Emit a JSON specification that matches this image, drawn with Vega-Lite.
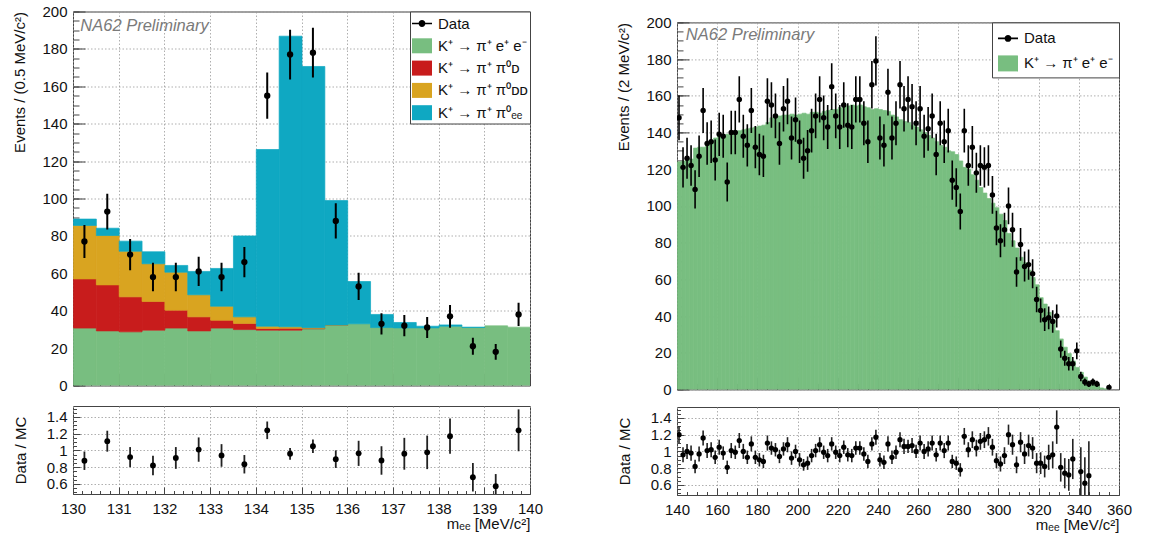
{
"$schema": "https://vega.github.io/schema/vega-lite/v6.json",
"padding": {"left": 12, "top": 3.5, "right": 0, "bottom": 0},
"config": {
 "font": "Liberation Sans",
 "view": {"stroke": "#444", "strokeWidth": 1},
 "axis": {"domain": false, "grid": true, "gridColor": "#9a9a9a", "gridDash": [1.5, 2], "gridWidth": 0.8, "tickColor": "#444", "tickSize": -12, "tickWidth": 1, "tickCount": 100, "labelFont": "Liberation Sans", "labelFontSize": 15, "labelColor": "#111", "titleFont": "Liberation Sans", "titleFontSize": 15, "titleFontWeight": "normal", "titleColor": "#111", "labelFlush": false, "labelOverlap": false}
},
"datasets": {
 "left_mc": [
  {"x":130.0,"x2":130.5,"c":"K⁺ → π⁺ e⁺ e⁻","o":1,"y":30.7},
  {"x":130.5,"x2":131.0,"c":"K⁺ → π⁺ e⁺ e⁻","o":1,"y":29.2},
  {"x":131.0,"x2":131.5,"c":"K⁺ → π⁺ e⁺ e⁻","o":1,"y":28.7},
  {"x":131.5,"x2":132.0,"c":"K⁺ → π⁺ e⁺ e⁻","o":1,"y":29.6},
  {"x":132.0,"x2":132.5,"c":"K⁺ → π⁺ e⁺ e⁻","o":1,"y":30.7},
  {"x":132.5,"x2":133.0,"c":"K⁺ → π⁺ e⁺ e⁻","o":1,"y":29.2},
  {"x":133.0,"x2":133.5,"c":"K⁺ → π⁺ e⁺ e⁻","o":1,"y":30.7},
  {"x":133.5,"x2":134.0,"c":"K⁺ → π⁺ e⁺ e⁻","o":1,"y":29.9},
  {"x":134.0,"x2":134.5,"c":"K⁺ → π⁺ e⁺ e⁻","o":1,"y":29.6},
  {"x":134.5,"x2":135.0,"c":"K⁺ → π⁺ e⁺ e⁻","o":1,"y":29.6},
  {"x":135.0,"x2":135.5,"c":"K⁺ → π⁺ e⁺ e⁻","o":1,"y":30.3},
  {"x":135.5,"x2":136.0,"c":"K⁺ → π⁺ e⁺ e⁻","o":1,"y":32.1},
  {"x":136.0,"x2":136.5,"c":"K⁺ → π⁺ e⁺ e⁻","o":1,"y":33.0},
  {"x":136.5,"x2":137.0,"c":"K⁺ → π⁺ e⁺ e⁻","o":1,"y":31.0},
  {"x":137.0,"x2":137.5,"c":"K⁺ → π⁺ e⁺ e⁻","o":1,"y":30.8},
  {"x":137.5,"x2":138.0,"c":"K⁺ → π⁺ e⁺ e⁻","o":1,"y":30.8},
  {"x":138.0,"x2":138.5,"c":"K⁺ → π⁺ e⁺ e⁻","o":1,"y":31.7},
  {"x":138.5,"x2":139.0,"c":"K⁺ → π⁺ e⁺ e⁻","o":1,"y":31.0},
  {"x":139.0,"x2":139.5,"c":"K⁺ → π⁺ e⁺ e⁻","o":1,"y":31.9},
  {"x":139.5,"x2":140.0,"c":"K⁺ → π⁺ e⁺ e⁻","o":1,"y":31.2},
  {"x":130.0,"x2":130.5,"c":"K⁺ → π⁺ π⁰ᴅ","o":2,"y":26.3},
  {"x":130.5,"x2":131.0,"c":"K⁺ → π⁺ π⁰ᴅ","o":2,"y":24.6},
  {"x":131.0,"x2":131.5,"c":"K⁺ → π⁺ π⁰ᴅ","o":2,"y":18.7},
  {"x":131.5,"x2":132.0,"c":"K⁺ → π⁺ π⁰ᴅ","o":2,"y":15.3},
  {"x":132.0,"x2":132.5,"c":"K⁺ → π⁺ π⁰ᴅ","o":2,"y":9.6},
  {"x":132.5,"x2":133.0,"c":"K⁺ → π⁺ π⁰ᴅ","o":2,"y":7.5},
  {"x":133.0,"x2":133.5,"c":"K⁺ → π⁺ π⁰ᴅ","o":2,"y":4.2},
  {"x":133.5,"x2":134.0,"c":"K⁺ → π⁺ π⁰ᴅ","o":2,"y":3.3},
  {"x":134.0,"x2":134.5,"c":"K⁺ → π⁺ π⁰ᴅ","o":2,"y":0.9},
  {"x":134.5,"x2":135.0,"c":"K⁺ → π⁺ π⁰ᴅ","o":2,"y":1.0},
  {"x":135.0,"x2":135.5,"c":"K⁺ → π⁺ π⁰ᴅ","o":2,"y":0.3},
  {"x":135.5,"x2":136.0,"c":"K⁺ → π⁺ π⁰ᴅ","o":2,"y":0.1},
  {"x":130.0,"x2":130.5,"c":"K⁺ → π⁺ π⁰ᴅᴅ","o":3,"y":28.6},
  {"x":130.5,"x2":131.0,"c":"K⁺ → π⁺ π⁰ᴅᴅ","o":3,"y":26.4},
  {"x":131.0,"x2":131.5,"c":"K⁺ → π⁺ π⁰ᴅᴅ","o":3,"y":24.4},
  {"x":131.5,"x2":132.0,"c":"K⁺ → π⁺ π⁰ᴅᴅ","o":3,"y":20.2},
  {"x":132.0,"x2":132.5,"c":"K⁺ → π⁺ π⁰ᴅᴅ","o":3,"y":20.3},
  {"x":132.5,"x2":133.0,"c":"K⁺ → π⁺ π⁰ᴅᴅ","o":3,"y":11.8},
  {"x":133.0,"x2":133.5,"c":"K⁺ → π⁺ π⁰ᴅᴅ","o":3,"y":7.5},
  {"x":133.5,"x2":134.0,"c":"K⁺ → π⁺ π⁰ᴅᴅ","o":3,"y":3.5},
  {"x":134.0,"x2":134.5,"c":"K⁺ → π⁺ π⁰ᴅᴅ","o":3,"y":1.2},
  {"x":134.5,"x2":135.0,"c":"K⁺ → π⁺ π⁰ᴅᴅ","o":3,"y":0.8},
  {"x":135.0,"x2":135.5,"c":"K⁺ → π⁺ π⁰ᴅᴅ","o":3,"y":0.3},
  {"x":135.5,"x2":136.0,"c":"K⁺ → π⁺ π⁰ᴅᴅ","o":3,"y":0.1},
  {"x":130.0,"x2":130.5,"c":"K⁺ → π⁺ π⁰ₑₑ","o":4,"y":3.4},
  {"x":130.5,"x2":131.0,"c":"K⁺ → π⁺ π⁰ₑₑ","o":4,"y":3.9},
  {"x":131.0,"x2":131.5,"c":"K⁺ → π⁺ π⁰ₑₑ","o":4,"y":5.4},
  {"x":131.5,"x2":132.0,"c":"K⁺ → π⁺ π⁰ₑₑ","o":4,"y":6.4},
  {"x":132.0,"x2":132.5,"c":"K⁺ → π⁺ π⁰ₑₑ","o":4,"y":3.6},
  {"x":132.5,"x2":133.0,"c":"K⁺ → π⁺ π⁰ₑₑ","o":4,"y":12.5},
  {"x":133.0,"x2":133.5,"c":"K⁺ → π⁺ π⁰ₑₑ","o":4,"y":20.2},
  {"x":133.5,"x2":134.0,"c":"K⁺ → π⁺ π⁰ₑₑ","o":4,"y":43.3},
  {"x":134.0,"x2":134.5,"c":"K⁺ → π⁺ π⁰ₑₑ","o":4,"y":94.5},
  {"x":134.5,"x2":135.0,"c":"K⁺ → π⁺ π⁰ₑₑ","o":4,"y":155.4},
  {"x":135.0,"x2":135.5,"c":"K⁺ → π⁺ π⁰ₑₑ","o":4,"y":139.7},
  {"x":135.5,"x2":136.0,"c":"K⁺ → π⁺ π⁰ₑₑ","o":4,"y":66.6},
  {"x":136.0,"x2":136.5,"c":"K⁺ → π⁺ π⁰ₑₑ","o":4,"y":22.6},
  {"x":136.5,"x2":137.0,"c":"K⁺ → π⁺ π⁰ₑₑ","o":4,"y":7.0},
  {"x":137.0,"x2":137.5,"c":"K⁺ → π⁺ π⁰ₑₑ","o":4,"y":2.9},
  {"x":137.5,"x2":138.0,"c":"K⁺ → π⁺ π⁰ₑₑ","o":4,"y":0.9},
  {"x":138.0,"x2":138.5,"c":"K⁺ → π⁺ π⁰ₑₑ","o":4,"y":0.7},
  {"x":138.5,"x2":139.0,"c":"K⁺ → π⁺ π⁰ₑₑ","o":4,"y":0.2}
 ],
 "left_data": [
  {"x":130.25,"y":77,"e":8.8},{"x":130.75,"y":93,"e":9.6},{"x":131.25,"y":70,"e":8.4},{"x":131.75,"y":58,"e":7.6},
  {"x":132.25,"y":58,"e":7.6},{"x":132.75,"y":61,"e":7.8},{"x":133.25,"y":58,"e":7.6},{"x":133.75,"y":66,"e":8.1},
  {"x":134.25,"y":155,"e":12.4},{"x":134.75,"y":177,"e":13.3},{"x":135.25,"y":178,"e":13.3},{"x":135.75,"y":88,"e":9.4},
  {"x":136.25,"y":53,"e":7.3},{"x":136.75,"y":33,"e":5.7},{"x":137.25,"y":32,"e":5.7},{"x":137.75,"y":31,"e":5.6},
  {"x":138.25,"y":37,"e":6.1},{"x":138.75,"y":21,"e":4.6},{"x":139.25,"y":18,"e":4.2},{"x":139.75,"y":38,"e":6.2}
 ],
 "left_ratio": [
  {"x":130.25,"y":0.877,"e":0.11},{"x":130.75,"y":1.11,"e":0.125},{"x":131.25,"y":0.92,"e":0.12},{"x":131.75,"y":0.82,"e":0.115},
  {"x":132.25,"y":0.91,"e":0.13},{"x":132.75,"y":1.01,"e":0.145},{"x":133.25,"y":0.94,"e":0.135},{"x":133.75,"y":0.835,"e":0.11},
  {"x":134.25,"y":1.24,"e":0.105},{"x":134.75,"y":0.96,"e":0.07},{"x":135.25,"y":1.05,"e":0.08},{"x":135.75,"y":0.896,"e":0.105},
  {"x":136.25,"y":0.965,"e":0.15},{"x":136.75,"y":0.88,"e":0.17},{"x":137.25,"y":0.96,"e":0.19},{"x":137.75,"y":0.977,"e":0.2},
  {"x":138.25,"y":1.17,"e":0.21},{"x":138.75,"y":0.68,"e":0.17},{"x":139.25,"y":0.573,"e":0.145},{"x":139.75,"y":1.24,"e":0.25}
 ],
 "right_mc": [
  {"x":140,"x2":142,"y":124,"c":"K⁺ → π⁺ e⁺ e⁻"},{"x":142,"x2":144,"y":124.5,"c":"K⁺ → π⁺ e⁺ e⁻"},{"x":144,"x2":146,"y":125,"c":"K⁺ → π⁺ e⁺ e⁻"},{"x":146,"x2":148,"y":125.5,"c":"K⁺ → π⁺ e⁺ e⁻"},
  {"x":148,"x2":150,"y":131.5,"c":"K⁺ → π⁺ e⁺ e⁻"},{"x":150,"x2":152,"y":132,"c":"K⁺ → π⁺ e⁺ e⁻"},{"x":152,"x2":154,"y":132,"c":"K⁺ → π⁺ e⁺ e⁻"},{"x":154,"x2":156,"y":133,"c":"K⁺ → π⁺ e⁺ e⁻"},
  {"x":156,"x2":158,"y":135,"c":"K⁺ → π⁺ e⁺ e⁻"},{"x":158,"x2":160,"y":137,"c":"K⁺ → π⁺ e⁺ e⁻"},{"x":160,"x2":162,"y":138,"c":"K⁺ → π⁺ e⁺ e⁻"},{"x":162,"x2":164,"y":138.5,"c":"K⁺ → π⁺ e⁺ e⁻"},
  {"x":164,"x2":166,"y":139,"c":"K⁺ → π⁺ e⁺ e⁻"},{"x":166,"x2":168,"y":139.5,"c":"K⁺ → π⁺ e⁺ e⁻"},{"x":168,"x2":170,"y":140,"c":"K⁺ → π⁺ e⁺ e⁻"},{"x":170,"x2":172,"y":141,"c":"K⁺ → π⁺ e⁺ e⁻"},
  {"x":172,"x2":174,"y":141.5,"c":"K⁺ → π⁺ e⁺ e⁻"},{"x":174,"x2":176,"y":142,"c":"K⁺ → π⁺ e⁺ e⁻"},{"x":176,"x2":178,"y":142.5,"c":"K⁺ → π⁺ e⁺ e⁻"},{"x":178,"x2":180,"y":143,"c":"K⁺ → π⁺ e⁺ e⁻"},
  {"x":180,"x2":182,"y":143.5,"c":"K⁺ → π⁺ e⁺ e⁻"},{"x":182,"x2":184,"y":144,"c":"K⁺ → π⁺ e⁺ e⁻"},{"x":184,"x2":186,"y":145.5,"c":"K⁺ → π⁺ e⁺ e⁻"},{"x":186,"x2":188,"y":148,"c":"K⁺ → π⁺ e⁺ e⁻"},
  {"x":188,"x2":190,"y":148,"c":"K⁺ → π⁺ e⁺ e⁻"},{"x":190,"x2":192,"y":149,"c":"K⁺ → π⁺ e⁺ e⁻"},{"x":192,"x2":194,"y":149.5,"c":"K⁺ → π⁺ e⁺ e⁻"},{"x":194,"x2":196,"y":149.5,"c":"K⁺ → π⁺ e⁺ e⁻"},
  {"x":196,"x2":198,"y":150,"c":"K⁺ → π⁺ e⁺ e⁻"},{"x":198,"x2":200,"y":149.5,"c":"K⁺ → π⁺ e⁺ e⁻"},{"x":200,"x2":202,"y":150,"c":"K⁺ → π⁺ e⁺ e⁻"},{"x":202,"x2":204,"y":150.5,"c":"K⁺ → π⁺ e⁺ e⁻"},
  {"x":204,"x2":206,"y":150,"c":"K⁺ → π⁺ e⁺ e⁻"},{"x":206,"x2":208,"y":151,"c":"K⁺ → π⁺ e⁺ e⁻"},{"x":208,"x2":210,"y":151,"c":"K⁺ → π⁺ e⁺ e⁻"},{"x":210,"x2":212,"y":150.5,"c":"K⁺ → π⁺ e⁺ e⁻"},
  {"x":212,"x2":214,"y":151.5,"c":"K⁺ → π⁺ e⁺ e⁻"},{"x":214,"x2":216,"y":152,"c":"K⁺ → π⁺ e⁺ e⁻"},{"x":216,"x2":218,"y":152.5,"c":"K⁺ → π⁺ e⁺ e⁻"},{"x":218,"x2":220,"y":152.5,"c":"K⁺ → π⁺ e⁺ e⁻"},
  {"x":220,"x2":222,"y":153.5,"c":"K⁺ → π⁺ e⁺ e⁻"},{"x":222,"x2":224,"y":154,"c":"K⁺ → π⁺ e⁺ e⁻"},{"x":224,"x2":226,"y":154.5,"c":"K⁺ → π⁺ e⁺ e⁻"},{"x":226,"x2":228,"y":155,"c":"K⁺ → π⁺ e⁺ e⁻"},
  {"x":228,"x2":230,"y":154.5,"c":"K⁺ → π⁺ e⁺ e⁻"},{"x":230,"x2":232,"y":155,"c":"K⁺ → π⁺ e⁺ e⁻"},{"x":232,"x2":234,"y":154,"c":"K⁺ → π⁺ e⁺ e⁻"},{"x":234,"x2":236,"y":153.5,"c":"K⁺ → π⁺ e⁺ e⁻"},
  {"x":236,"x2":238,"y":152.5,"c":"K⁺ → π⁺ e⁺ e⁻"},{"x":238,"x2":240,"y":153,"c":"K⁺ → π⁺ e⁺ e⁻"},{"x":240,"x2":242,"y":152.5,"c":"K⁺ → π⁺ e⁺ e⁻"},{"x":242,"x2":244,"y":152,"c":"K⁺ → π⁺ e⁺ e⁻"},
  {"x":244,"x2":246,"y":151.5,"c":"K⁺ → π⁺ e⁺ e⁻"},{"x":246,"x2":248,"y":149.5,"c":"K⁺ → π⁺ e⁺ e⁻"},{"x":248,"x2":250,"y":148.5,"c":"K⁺ → π⁺ e⁺ e⁻"},{"x":250,"x2":252,"y":147,"c":"K⁺ → π⁺ e⁺ e⁻"},
  {"x":252,"x2":254,"y":146,"c":"K⁺ → π⁺ e⁺ e⁻"},{"x":254,"x2":256,"y":145.5,"c":"K⁺ → π⁺ e⁺ e⁻"},{"x":256,"x2":258,"y":144,"c":"K⁺ → π⁺ e⁺ e⁻"},{"x":258,"x2":260,"y":143,"c":"K⁺ → π⁺ e⁺ e⁻"},
  {"x":260,"x2":262,"y":141.5,"c":"K⁺ → π⁺ e⁺ e⁻"},{"x":262,"x2":264,"y":140,"c":"K⁺ → π⁺ e⁺ e⁻"},{"x":264,"x2":266,"y":138.5,"c":"K⁺ → π⁺ e⁺ e⁻"},{"x":266,"x2":268,"y":137,"c":"K⁺ → π⁺ e⁺ e⁻"},
  {"x":268,"x2":270,"y":135,"c":"K⁺ → π⁺ e⁺ e⁻"},{"x":270,"x2":272,"y":133,"c":"K⁺ → π⁺ e⁺ e⁻"},{"x":272,"x2":274,"y":132,"c":"K⁺ → π⁺ e⁺ e⁻"},{"x":274,"x2":276,"y":130,"c":"K⁺ → π⁺ e⁺ e⁻"},
  {"x":276,"x2":278,"y":129.5,"c":"K⁺ → π⁺ e⁺ e⁻"},{"x":278,"x2":280,"y":128,"c":"K⁺ → π⁺ e⁺ e⁻"},{"x":280,"x2":282,"y":124.5,"c":"K⁺ → π⁺ e⁺ e⁻"},{"x":282,"x2":284,"y":121,"c":"K⁺ → π⁺ e⁺ e⁻"},
  {"x":284,"x2":286,"y":120,"c":"K⁺ → π⁺ e⁺ e⁻"},{"x":286,"x2":288,"y":117,"c":"K⁺ → π⁺ e⁺ e⁻"},{"x":288,"x2":290,"y":114,"c":"K⁺ → π⁺ e⁺ e⁻"},{"x":290,"x2":292,"y":110,"c":"K⁺ → π⁺ e⁺ e⁻"},
  {"x":292,"x2":294,"y":107,"c":"K⁺ → π⁺ e⁺ e⁻"},{"x":294,"x2":296,"y":104,"c":"K⁺ → π⁺ e⁺ e⁻"},{"x":296,"x2":298,"y":101.5,"c":"K⁺ → π⁺ e⁺ e⁻"},{"x":298,"x2":300,"y":99,"c":"K⁺ → π⁺ e⁺ e⁻"},
  {"x":300,"x2":302,"y":95.5,"c":"K⁺ → π⁺ e⁺ e⁻"},{"x":302,"x2":304,"y":92,"c":"K⁺ → π⁺ e⁺ e⁻"},{"x":304,"x2":306,"y":85,"c":"K⁺ → π⁺ e⁺ e⁻"},{"x":306,"x2":308,"y":81,"c":"K⁺ → π⁺ e⁺ e⁻"},
  {"x":308,"x2":310,"y":77,"c":"K⁺ → π⁺ e⁺ e⁻"},{"x":310,"x2":312,"y":72,"c":"K⁺ → π⁺ e⁺ e⁻"},{"x":312,"x2":314,"y":69,"c":"K⁺ → π⁺ e⁺ e⁻"},{"x":314,"x2":316,"y":65,"c":"K⁺ → π⁺ e⁺ e⁻"},
  {"x":316,"x2":318,"y":61,"c":"K⁺ → π⁺ e⁺ e⁻"},{"x":318,"x2":320,"y":57,"c":"K⁺ → π⁺ e⁺ e⁻"},{"x":320,"x2":322,"y":50,"c":"K⁺ → π⁺ e⁺ e⁻"},{"x":322,"x2":324,"y":46.5,"c":"K⁺ → π⁺ e⁺ e⁻"},
  {"x":324,"x2":326,"y":42,"c":"K⁺ → π⁺ e⁺ e⁻"},{"x":326,"x2":328,"y":38,"c":"K⁺ → π⁺ e⁺ e⁻"},{"x":328,"x2":330,"y":32,"c":"K⁺ → π⁺ e⁺ e⁻"},{"x":330,"x2":332,"y":27.5,"c":"K⁺ → π⁺ e⁺ e⁻"},
  {"x":332,"x2":334,"y":23,"c":"K⁺ → π⁺ e⁺ e⁻"},{"x":334,"x2":336,"y":19.5,"c":"K⁺ → π⁺ e⁺ e⁻"},{"x":336,"x2":338,"y":15.5,"c":"K⁺ → π⁺ e⁺ e⁻"},{"x":338,"x2":340,"y":12,"c":"K⁺ → π⁺ e⁺ e⁻"},
  {"x":340,"x2":342,"y":9.3,"c":"K⁺ → π⁺ e⁺ e⁻"},{"x":342,"x2":344,"y":6.7,"c":"K⁺ → π⁺ e⁺ e⁻"},{"x":344,"x2":346,"y":4.5,"c":"K⁺ → π⁺ e⁺ e⁻"},{"x":346,"x2":348,"y":3,"c":"K⁺ → π⁺ e⁺ e⁻"},
  {"x":348,"x2":350,"y":1.8,"c":"K⁺ → π⁺ e⁺ e⁻"},{"x":350,"x2":352,"y":0.8,"c":"K⁺ → π⁺ e⁺ e⁻"},{"x":352,"x2":354,"y":0.3,"c":"K⁺ → π⁺ e⁺ e⁻"}
 ],
 "right_data": [
  {"x":141,"y":148,"e":12.2},{"x":143,"y":121,"e":11},{"x":145,"y":126,"e":11.2},{"x":147,"y":122,"e":11},
  {"x":149,"y":109,"e":10.4},{"x":151,"y":127,"e":11.3},{"x":153,"y":152,"e":12.3},{"x":155,"y":134,"e":11.6},
  {"x":157,"y":135,"e":11.6},{"x":159,"y":125,"e":11.2},{"x":161,"y":139,"e":11.8},{"x":163,"y":138,"e":11.7},
  {"x":165,"y":113,"e":10.6},{"x":167,"y":140,"e":11.8},{"x":169,"y":140,"e":11.8},{"x":171,"y":158,"e":12.6},
  {"x":173,"y":138,"e":11.7},{"x":175,"y":133,"e":11.5},{"x":177,"y":152,"e":12.3},{"x":179,"y":132,"e":11.5},
  {"x":181,"y":128,"e":11.3},{"x":183,"y":127,"e":11.3},{"x":185,"y":157,"e":12.5},{"x":187,"y":155,"e":12.4},
  {"x":189,"y":149,"e":12.2},{"x":191,"y":134,"e":11.6},{"x":193,"y":153,"e":12.4},{"x":195,"y":157,"e":12.5},
  {"x":197,"y":137,"e":11.7},{"x":199,"y":147,"e":12.1},{"x":201,"y":135,"e":11.6},{"x":203,"y":126,"e":11.2},
  {"x":205,"y":130,"e":11.4},{"x":207,"y":141,"e":11.9},{"x":209,"y":149,"e":12.2},{"x":211,"y":158,"e":12.6},
  {"x":213,"y":148,"e":12.2},{"x":215,"y":143,"e":12},{"x":217,"y":165,"e":12.8},{"x":219,"y":149,"e":12.2},
  {"x":221,"y":143,"e":12},{"x":223,"y":155,"e":12.4},{"x":225,"y":144,"e":12},{"x":227,"y":143,"e":12},
  {"x":229,"y":158,"e":12.6},{"x":231,"y":158,"e":12.6},{"x":233,"y":145,"e":12},{"x":235,"y":135,"e":11.6},
  {"x":237,"y":166,"e":12.9},{"x":239,"y":179,"e":13.4},{"x":241,"y":137,"e":11.7},{"x":243,"y":133,"e":11.5},
  {"x":245,"y":162,"e":12.7},{"x":247,"y":137,"e":11.7},{"x":249,"y":145,"e":12},{"x":251,"y":166,"e":12.9},
  {"x":253,"y":153,"e":12.4},{"x":255,"y":158,"e":12.6},{"x":257,"y":154,"e":12.4},{"x":259,"y":145,"e":12},
  {"x":261,"y":153,"e":12.4},{"x":263,"y":138,"e":11.7},{"x":265,"y":142,"e":11.9},{"x":267,"y":149,"e":12.2},
  {"x":269,"y":128,"e":11.3},{"x":271,"y":145,"e":12},{"x":273,"y":135,"e":11.6},{"x":275,"y":141,"e":11.9},
  {"x":277,"y":114,"e":10.7},{"x":279,"y":110,"e":10.5},{"x":281,"y":97,"e":9.8},{"x":283,"y":141,"e":11.9},
  {"x":285,"y":122,"e":11},{"x":287,"y":132,"e":11.5},{"x":289,"y":118,"e":10.9},{"x":291,"y":122,"e":11},
  {"x":293,"y":121,"e":11},{"x":295,"y":122,"e":11},{"x":297,"y":106,"e":10.3},{"x":299,"y":88,"e":9.4},
  {"x":301,"y":81,"e":9},{"x":303,"y":87,"e":9.3},{"x":305,"y":100,"e":10},{"x":307,"y":87,"e":9.3},
  {"x":309,"y":64,"e":8},{"x":311,"y":79,"e":8.9},{"x":313,"y":67,"e":8.2},{"x":315,"y":68,"e":8.2},
  {"x":317,"y":63,"e":7.9},{"x":319,"y":49,"e":7},{"x":321,"y":43,"e":6.6},{"x":323,"y":38,"e":6.2},
  {"x":325,"y":39,"e":6.2},{"x":327,"y":37,"e":6.1},{"x":329,"y":40,"e":6.3},{"x":331,"y":22,"e":4.7},
  {"x":333,"y":17,"e":4.1},{"x":335,"y":14,"e":3.7},{"x":337,"y":14,"e":3.7},{"x":339,"y":21,"e":4.6},
  {"x":341,"y":7,"e":2.6},{"x":343,"y":4,"e":2},{"x":345,"y":3,"e":1.7},{"x":347,"y":4,"e":2},
  {"x":349,"y":3,"e":1.7},{"x":355,"y":1,"e":1}
 ],
 "right_ratio": [
  {"x":141,"y":1.2,"e":0.1},{"x":143,"y":0.96,"e":0.09},{"x":145,"y":1.0,"e":0.09},{"x":147,"y":0.98,"e":0.09},
  {"x":149,"y":0.82,"e":0.08},{"x":151,"y":0.97,"e":0.09},{"x":153,"y":1.16,"e":0.09},{"x":155,"y":1.01,"e":0.09},
  {"x":157,"y":1.02,"e":0.09},{"x":159,"y":0.93,"e":0.08},{"x":161,"y":1.05,"e":0.09},{"x":163,"y":0.98,"e":0.08},
  {"x":165,"y":0.81,"e":0.08},{"x":167,"y":1.01,"e":0.09},{"x":169,"y":0.99,"e":0.08},{"x":171,"y":1.13,"e":0.09},
  {"x":173,"y":1.0,"e":0.09},{"x":175,"y":0.93,"e":0.08},{"x":177,"y":1.09,"e":0.09},{"x":179,"y":0.93,"e":0.08},
  {"x":181,"y":0.9,"e":0.08},{"x":183,"y":0.88,"e":0.08},{"x":185,"y":1.1,"e":0.09},{"x":187,"y":1.04,"e":0.08},
  {"x":189,"y":1.02,"e":0.08},{"x":191,"y":0.94,"e":0.08},{"x":193,"y":1.03,"e":0.08},{"x":195,"y":1.08,"e":0.09},
  {"x":197,"y":0.92,"e":0.08},{"x":199,"y":1.0,"e":0.08},{"x":201,"y":0.9,"e":0.08},{"x":203,"y":0.84,"e":0.07},
  {"x":205,"y":0.86,"e":0.08},{"x":207,"y":0.95,"e":0.08},{"x":209,"y":1.01,"e":0.08},{"x":211,"y":1.08,"e":0.09},
  {"x":213,"y":0.99,"e":0.08},{"x":215,"y":0.95,"e":0.08},{"x":217,"y":1.09,"e":0.08},{"x":219,"y":0.99,"e":0.08},
  {"x":221,"y":0.95,"e":0.08},{"x":223,"y":1.05,"e":0.08},{"x":225,"y":0.96,"e":0.08},{"x":227,"y":0.95,"e":0.08},
  {"x":229,"y":1.04,"e":0.08},{"x":231,"y":1.04,"e":0.08},{"x":233,"y":0.97,"e":0.08},{"x":235,"y":0.88,"e":0.08},
  {"x":237,"y":1.09,"e":0.08},{"x":239,"y":1.17,"e":0.09},{"x":241,"y":0.9,"e":0.08},{"x":243,"y":0.87,"e":0.08},
  {"x":245,"y":1.09,"e":0.09},{"x":247,"y":0.93,"e":0.08},{"x":249,"y":0.99,"e":0.08},{"x":251,"y":1.14,"e":0.09},
  {"x":253,"y":1.06,"e":0.09},{"x":255,"y":1.06,"e":0.08},{"x":257,"y":1.07,"e":0.09},{"x":259,"y":1.0,"e":0.08},
  {"x":261,"y":1.1,"e":0.09},{"x":263,"y":1.0,"e":0.09},{"x":265,"y":1.03,"e":0.09},{"x":267,"y":1.1,"e":0.09},
  {"x":269,"y":0.96,"e":0.08},{"x":271,"y":1.1,"e":0.09},{"x":273,"y":1.01,"e":0.09},{"x":275,"y":1.1,"e":0.09},
  {"x":277,"y":0.88,"e":0.08},{"x":279,"y":0.86,"e":0.08},{"x":281,"y":0.78,"e":0.08},{"x":283,"y":1.18,"e":0.1},
  {"x":285,"y":1.02,"e":0.09},{"x":287,"y":1.14,"e":0.1},{"x":289,"y":1.04,"e":0.1},{"x":291,"y":1.12,"e":0.1},
  {"x":293,"y":1.14,"e":0.1},{"x":295,"y":1.18,"e":0.11},{"x":297,"y":1.05,"e":0.1},{"x":299,"y":0.89,"e":0.09},
  {"x":301,"y":0.85,"e":0.09},{"x":303,"y":0.95,"e":0.1},{"x":305,"y":1.2,"e":0.12},{"x":307,"y":1.08,"e":0.12},
  {"x":309,"y":0.84,"e":0.1},{"x":311,"y":1.11,"e":0.12},{"x":313,"y":0.97,"e":0.12},{"x":315,"y":1.07,"e":0.13},
  {"x":317,"y":1.04,"e":0.13},{"x":319,"y":0.86,"e":0.12},{"x":321,"y":0.86,"e":0.13},{"x":323,"y":0.82,"e":0.13},
  {"x":325,"y":0.93,"e":0.15},{"x":327,"y":0.96,"e":0.16},{"x":329,"y":1.29,"e":0.2},{"x":331,"y":0.81,"e":0.17},
  {"x":333,"y":0.74,"e":0.18},{"x":335,"y":0.72,"e":0.19},{"x":337,"y":0.91,"e":0.24},{"x":341,"y":0.76,"e":0.29},
  {"x":343,"y":0.62,"e":0.31},{"x":345,"y":0.71,"e":0.41}
 ]
},
"resolve": {"scale": {"color": "independent"}, "legend": {"color": "independent"}},
"spacing": 72,
"hconcat": [
 {"spacing": 10.5, "resolve": {"scale": {"color": "independent"}, "legend": {"color": "independent"}}, "vconcat": [
  {"width": 457, "height": 374,
   "resolve": {"axis": {"x": "independent", "y": "independent"}},
   "layer": [
    {"data": {"name": "left_mc"}, "mark": {"type": "bar", "clip": true, "binSpacing": 0, "strokeWidth": 0.7},
     "encoding": {
      "x": {"field": "x", "type": "quantitative", "bin": {"binned": true}, "scale": {"domain": [130, 140], "nice": false, "zero": false}, "axis": {"orient": "bottom", "values": [130,131,132,133,134,135,136,137,138,139,140], "labels": false, "title": null}},
      "x2": {"field": "x2"},
      "y": {"field": "y", "type": "quantitative", "stack": "zero", "scale": {"domain": [0, 200], "nice": false}, "axis": {"orient": "left", "values": [0,20,40,60,80,100,120,140,160,180,200], "labelPadding": 18, "title": "Events / (0.5 MeV/c²)", "titleAnchor": "end", "titlePadding": 14}},
      "color": {"field": "c", "type": "nominal",
       "scale": {"domain": ["Data", "K⁺ → π⁺ e⁺ e⁻", "K⁺ → π⁺ π⁰ᴅ", "K⁺ → π⁺ π⁰ᴅᴅ", "K⁺ → π⁺ π⁰ₑₑ"], "range": ["#000000", "#78BE80", "#C81C1C", "#D9A420", "#0FA8C2"]},
       "legend": {"title": null, "orient": "top-right", "offset": 0, "padding": 2, "rowPadding": 4.3, "symbolSize": 400, "labelFontSize": 15, "labelFont": "Liberation Sans", "labelColor": "#111", "labelLimit": 300, "labelOffset": 6, "strokeColor": "#444", "fillColor": "white", "symbolStrokeWidth": 0,
        "encode": {"symbols": {"update": {"shape": {"signal": "datum.value === 'Data' ? 'M-1,-0.08H1V0.08H-1Z M0.34,0A0.34,0.34 0 1,1 -0.34,0A0.34,0.34 0 1,1 0.34,0Z' : 'M-1,-0.75H1V0.75H-1Z'"}}}}}},
      "stroke": {"field": "c", "type": "nominal", "scale": {"domain": ["K⁺ → π⁺ e⁺ e⁻", "K⁺ → π⁺ π⁰ᴅ", "K⁺ → π⁺ π⁰ᴅᴅ", "K⁺ → π⁺ π⁰ₑₑ"], "range": ["#78BE80", "#C81C1C", "#D9A420", "#0FA8C2"]}, "legend": null},
      "order": {"field": "o", "type": "quantitative"}
     }},
    {"data": {"name": "left_data"}, "mark": {"type": "errorbar", "color": "black", "thickness": 2, "clip": true},
     "encoding": {
      "x": {"field": "x", "type": "quantitative", "axis": null},
      "y": {"field": "y", "type": "quantitative", "axis": null},
      "yError": {"field": "e"}
     }},
    {"data": {"name": "left_data"}, "mark": {"type": "point", "filled": true, "shape": "circle", "size": 40, "opacity": 1, "clip": true},
     "encoding": {
      "x": {"field": "x", "type": "quantitative", "axis": {"orient": "bottom", "values": [130,130.2,130.4,130.6,130.8,131,131.2,131.4,131.6,131.8,132,132.2,132.4,132.6,132.8,133,133.2,133.4,133.6,133.8,134,134.2,134.4,134.6,134.8,135,135.2,135.4,135.6,135.8,136,136.2,136.4,136.6,136.8,137,137.2,137.4,137.6,137.8,138,138.2,138.4,138.6,138.8,139,139.2,139.4,139.6,139.8,140], "tickSize": -6, "labels": false, "grid": false, "title": null}},
      "y": {"field": "y", "type": "quantitative", "axis": {"orient": "left", "values": [0,5,10,15,20,25,30,35,40,45,50,55,60,65,70,75,80,85,90,95,100,105,110,115,120,125,130,135,140,145,150,155,160,165,170,175,180,185,190,195,200], "tickSize": -6, "labels": false, "grid": false, "title": null}},
      "color": {"datum": "Data"}
     }},
    {"data": {"values": [{}]}, "mark": {"type": "text", "text": "NA62 Preliminary", "font": "Liberation Sans", "fontStyle": "italic", "fontSize": 16.5, "color": "#7a7a7a", "align": "left", "baseline": "middle"},
     "encoding": {"x": {"datum": 130.16, "axis": null}, "y": {"datum": 192.5, "axis": null}}}
   ]},
  {"width": 457, "height": 88,
   "resolve": {"axis": {"x": "independent", "y": "independent"}},
   "layer": [
    {"data": {"name": "left_ratio"}, "mark": {"type": "errorbar", "color": "#222", "thickness": 1.8, "clip": true},
     "encoding": {
      "x": {"field": "x", "type": "quantitative", "scale": {"domain": [130, 140], "nice": false, "zero": false}, "axis": {"orient": "bottom", "values": [130,131,132,133,134,135,136,137,138,139,140], "format": "d", "tickSize": -7, "labelPadding": 14, "title": "mₑₑ [MeV/c²]", "titleAnchor": "end", "titlePadding": 0}},
      "y": {"field": "y", "type": "quantitative", "scale": {"domain": [0.48, 1.53], "nice": false, "zero": false}, "axis": {"orient": "left", "values": [0.6, 0.8, 1, 1.2, 1.4], "format": "~g", "tickSize": -7, "labelPadding": 13, "title": "Data / MC", "titleAnchor": "middle", "titlePadding": 18}},
      "yError": {"field": "e"}
     }},
    {"data": {"name": "left_ratio"}, "mark": {"type": "point", "filled": true, "shape": "circle", "size": 34, "opacity": 1, "color": "black", "clip": true},
     "encoding": {
      "x": {"field": "x", "type": "quantitative", "axis": {"orient": "bottom", "values": [130,130.2,130.4,130.6,130.8,131,131.2,131.4,131.6,131.8,132,132.2,132.4,132.6,132.8,133,133.2,133.4,133.6,133.8,134,134.2,134.4,134.6,134.8,135,135.2,135.4,135.6,135.8,136,136.2,136.4,136.6,136.8,137,137.2,137.4,137.6,137.8,138,138.2,138.4,138.6,138.8,139,139.2,139.4,139.6,139.8,140], "tickSize": -3.5, "labels": false, "grid": false, "title": null}},
      "y": {"field": "y", "type": "quantitative", "axis": {"orient": "left", "values": [0.5,0.55,0.6,0.65,0.7,0.75,0.8,0.85,0.9,0.95,1,1.05,1.1,1.15,1.2,1.25,1.3,1.35,1.4,1.45,1.5], "tickSize": -3.5, "labels": false, "grid": false, "title": null}}
     }}
   ]}
 ]},
 {"spacing": 7.5, "resolve": {"scale": {"color": "independent"}, "legend": {"color": "independent"}}, "vconcat": [
  {"spacing": 1.9, "resolve": {"scale": {"color": "independent"}, "legend": {"color": "independent"}}, "vconcat": [
   {"width": 442, "height": 1, "view": {"stroke": null}, "data": {"values": []}, "mark": "point", "encoding": {}},
   {"width": 442, "height": 367,
    "resolve": {"axis": {"x": "independent", "y": "independent"}},
    "layer": [
     {"data": {"name": "right_mc"}, "mark": {"type": "bar", "clip": true, "binSpacing": 0, "strokeWidth": 0.7},
      "encoding": {
       "x": {"field": "x", "type": "quantitative", "bin": {"binned": true}, "scale": {"domain": [140, 360], "nice": false, "zero": false}, "axis": {"orient": "bottom", "values": [140,160,180,200,220,240,260,280,300,320,340,360], "labels": false, "title": null}},
       "x2": {"field": "x2"},
       "y": {"field": "y", "type": "quantitative", "scale": {"domain": [0, 200], "nice": false}, "axis": {"orient": "left", "values": [0,20,40,60,80,100,120,140,160,180,200], "labelPadding": 18, "title": "Events / (2 MeV/c²)", "titleAnchor": "end", "titlePadding": 14}},
       "color": {"field": "c", "type": "nominal",
        "scale": {"domain": ["Data", "K⁺ → π⁺ e⁺ e⁻"], "range": ["#000000", "#78BE80"]},
        "legend": {"title": null, "orient": "top-right", "offset": 0, "padding": 6, "rowPadding": 7, "symbolSize": 400, "labelFontSize": 15, "labelFont": "Liberation Sans", "labelColor": "#111", "labelLimit": 300, "labelOffset": 6, "strokeColor": "#444", "fillColor": "white", "symbolStrokeWidth": 0,
         "encode": {"symbols": {"update": {"shape": {"signal": "datum.value === 'Data' ? 'M-1,-0.08H1V0.08H-1Z M0.34,0A0.34,0.34 0 1,1 -0.34,0A0.34,0.34 0 1,1 0.34,0Z' : 'M-1,-0.8H1V0.8H-1Z'"}}}}}},
       "stroke": {"field": "c", "type": "nominal", "scale": {"domain": ["K⁺ → π⁺ e⁺ e⁻"], "range": ["#78BE80"]}, "legend": null}
      }},
     {"data": {"name": "right_data"}, "mark": {"type": "errorbar", "color": "black", "thickness": 1.6, "clip": true},
      "encoding": {
       "x": {"field": "x", "type": "quantitative", "axis": null},
       "y": {"field": "y", "type": "quantitative", "axis": null},
       "yError": {"field": "e"}
      }},
     {"data": {"name": "right_data"}, "mark": {"type": "point", "filled": true, "shape": "circle", "size": 30, "opacity": 1, "clip": true},
      "encoding": {
       "x": {"field": "x", "type": "quantitative", "axis": {"orient": "bottom", "values": [140,145,150,155,160,165,170,175,180,185,190,195,200,205,210,215,220,225,230,235,240,245,250,255,260,265,270,275,280,285,290,295,300,305,310,315,320,325,330,335,340,345,350,355,360], "tickSize": -6, "labels": false, "grid": false, "title": null}},
       "y": {"field": "y", "type": "quantitative", "axis": {"orient": "left", "values": [0,5,10,15,20,25,30,35,40,45,50,55,60,65,70,75,80,85,90,95,100,105,110,115,120,125,130,135,140,145,150,155,160,165,170,175,180,185,190,195,200], "tickSize": -6, "labels": false, "grid": false, "title": null}},
       "color": {"datum": "Data"}
      }},
     {"data": {"values": [{}]}, "mark": {"type": "text", "text": "NA62 Preliminary", "font": "Liberation Sans", "fontStyle": "italic", "fontSize": 16.5, "color": "#7a7a7a", "align": "left", "baseline": "middle"},
      "encoding": {"x": {"datum": 144.4, "axis": null}, "y": {"datum": 193, "axis": null}}}
    ]}
  ]},
  {"width": 442, "height": 88,
   "resolve": {"axis": {"x": "independent", "y": "independent"}},
   "layer": [
    {"data": {"name": "right_ratio"}, "mark": {"type": "errorbar", "color": "#222", "thickness": 1.6, "clip": true},
     "encoding": {
      "x": {"field": "x", "type": "quantitative", "scale": {"domain": [140, 360], "nice": false, "zero": false}, "axis": {"orient": "bottom", "values": [140,160,180,200,220,240,260,280,300,320,340,360], "format": "d", "tickSize": -7, "labelPadding": 14, "title": "mₑₑ [MeV/c²]", "titleAnchor": "end", "titlePadding": 0}},
      "y": {"field": "y", "type": "quantitative", "scale": {"domain": [0.48, 1.53], "nice": false, "zero": false}, "axis": {"orient": "left", "values": [0.6, 0.8, 1, 1.2, 1.4], "format": "~g", "tickSize": -7, "labelPadding": 13, "title": "Data / MC", "titleAnchor": "middle", "titlePadding": 18}},
      "yError": {"field": "e"}
     }},
    {"data": {"name": "right_ratio"}, "mark": {"type": "point", "filled": true, "shape": "circle", "size": 28, "opacity": 1, "color": "black", "clip": true},
     "encoding": {
      "x": {"field": "x", "type": "quantitative", "axis": {"orient": "bottom", "values": [140,145,150,155,160,165,170,175,180,185,190,195,200,205,210,215,220,225,230,235,240,245,250,255,260,265,270,275,280,285,290,295,300,305,310,315,320,325,330,335,340,345,350,355,360], "tickSize": -3.5, "labels": false, "grid": false, "title": null}},
      "y": {"field": "y", "type": "quantitative", "axis": {"orient": "left", "values": [0.5,0.55,0.6,0.65,0.7,0.75,0.8,0.85,0.9,0.95,1,1.05,1.1,1.15,1.2,1.25,1.3,1.35,1.4,1.45,1.5], "tickSize": -3.5, "labels": false, "grid": false, "title": null}}
     }}
   ]}
 ]}
]
}
